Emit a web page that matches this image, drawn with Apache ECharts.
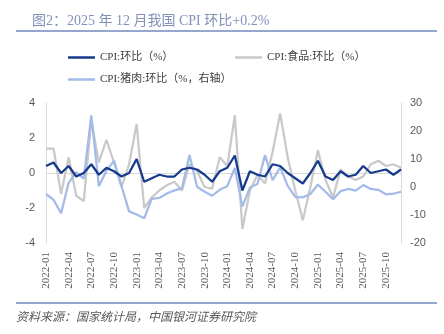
<!DOCTYPE html>
<html><head><meta charset="utf-8">
<script src="https://cdn.jsdelivr.net/npm/echarts@6/dist/echarts.min.js"></script>
<style>html,body{margin:0;padding:0;background:#fff}#c{width:444px;height:334px}</style>
</head><body><div id="c"></div>
<script>
const categories = [
 '2022-01','2022-02','2022-03','2022-04','2022-05','2022-06','2022-07','2022-08','2022-09','2022-10','2022-11','2022-12',
 '2023-01','2023-02','2023-03','2023-04','2023-05','2023-06','2023-07','2023-08','2023-09','2023-10','2023-11','2023-12',
 '2024-01','2024-02','2024-03','2024-04','2024-05','2024-06','2024-07','2024-08','2024-09','2024-10','2024-11','2024-12',
 '2025-01','2025-02','2025-03','2025-04','2025-05','2025-06','2025-07','2025-08','2025-09','2025-10','2025-11','2025-12'];
const cpiMoM = [0.4,0.6,0.0,0.4,-0.2,0.0,0.5,-0.1,0.3,0.1,-0.2,0.0,
 0.8,-0.5,-0.3,-0.1,-0.2,-0.2,0.2,0.3,0.2,-0.1,-0.5,0.1,
 0.3,1.0,-1.0,0.1,-0.1,-0.2,0.5,0.4,0.0,-0.3,-0.6,0.0,
 0.7,-0.2,-0.4,0.1,-0.2,-0.1,0.4,0.0,0.1,0.2,-0.1,0.2];
const foodMoM = [1.4,1.4,-1.2,0.9,-1.3,-1.6,3.0,0.6,1.9,0.6,-0.8,0.5,
 2.8,-2.0,-1.4,-1.0,-0.7,-0.5,-1.0,0.5,0.1,-0.8,-0.9,0.9,
 0.4,3.3,-3.2,-1.0,-0.1,-0.6,1.2,3.4,0.9,-1.0,-2.7,-0.8,
 1.3,-0.4,-1.4,0.2,-0.2,-0.4,-0.2,0.5,0.7,0.4,0.5,0.3];
const porkMoM = [-2.5,-4.6,-9.4,1.5,5.3,3.0,25.6,0.3,5.8,9.4,0.3,-8.7,
 -9.8,-11.2,-4.2,-3.9,-2.3,-1.2,-0.5,11.4,0.1,-1.7,-3.1,-1.0,
 0.3,6.8,-7.0,-0.2,1.1,11.4,2.4,7.0,0.4,-3.5,-3.7,-2.5,
 0.9,-1.7,-4.4,-1.5,-0.7,-1.3,0.7,-0.7,-1.0,-2.6,-2.4,-1.7];
const seriesNames = ['CPI:环比（%）','CPI:食品:环比（%）','CPI:猪肉:环比（%，右轴）'];
const titleText = '图2：2025 年 12 月我国 CPI 环比+0.2%';
const sourceText = '资料来源：国家统计局，中国银河证券研究院';

const serif = '"Liberation Serif","Noto Sans CJK SC",serif';
const sans = '"Liberation Sans","Noto Sans CJK SC",sans-serif';
const labelColor = '#595959';

const chart = echarts.init(document.getElementById('c'), null, {renderer:'canvas'});
const legendBase = {
  icon:'rect', itemWidth:27, itemHeight:2.5, orient:'horizontal',
  textStyle:{fontSize:11, color:'#404040', fontFamily:serif}, itemGap:10
};
chart.setOption({
  animation:false,
  backgroundColor:'#fff',
  title:{text:titleText, left:27, top:9,
    textStyle:{fontSize:14, fontWeight:'normal', color:'#8191b8', fontFamily:serif}},
  legend:[
    Object.assign({}, legendBase, {data:[seriesNames[0]], left:63, top:47}),
    Object.assign({}, legendBase, {data:[seriesNames[1]], left:230, top:47}),
    Object.assign({}, legendBase, {data:[seriesNames[2]], left:63, top:69})
  ],
  grid:{left:46, right:43, top:103, bottom:91, containLabel:false},
  xAxis:{type:'category', data:categories, boundaryGap:false,
    axisLine:{show:false}, axisTick:{show:false},
    axisLabel:{interval:2, rotate:90, fontSize:11, color:labelColor, fontFamily:serif, margin:9}},
  yAxis:[
    {type:'value', min:-4, max:4, interval:2, position:'left',
     axisLine:{show:true, lineStyle:{color:'#d9d9d9', width:1}}, axisTick:{show:false},
     splitLine:{show:false},
     axisLabel:{fontSize:11, color:labelColor, fontFamily:sans, margin:11}},
    {type:'value', min:-20, max:30, interval:10, position:'right',
     axisLine:{show:true, lineStyle:{color:'#d9d9d9', width:1}}, axisTick:{show:false},
     splitLine:{show:false},
     axisLabel:{fontSize:11, color:labelColor, fontFamily:sans, margin:9}}
  ],
  series:[
    {name:seriesNames[0], type:'line', data:cpiMoM, yAxisIndex:0, z:5,
     showSymbol:false, symbol:'none', lineStyle:{color:'#163a8c', width:2.25}, itemStyle:{color:'#163a8c'},
     markLine:{silent:true, symbol:'none', label:{show:false},
       lineStyle:{color:'#d9d9d9', width:1, type:'solid'}, data:[{yAxis:0}], z:1}},
    {name:seriesNames[1], type:'line', data:foodMoM, yAxisIndex:0, z:3,
     showSymbol:false, symbol:'none', lineStyle:{color:'#c9c9c9', width:2.25}, itemStyle:{color:'#c9c9c9'}},
    {name:seriesNames[2], type:'line', data:porkMoM, yAxisIndex:1, z:4,
     showSymbol:false, symbol:'none', lineStyle:{color:'#a3bbe8', width:2.25}, itemStyle:{color:'#a3bbe8'}}
  ],
  graphic:[
    {type:'line', shape:{x1:16,y1:31,x2:437,y2:31}, style:{stroke:'#95a7cc', lineWidth:2}},
    {type:'line', shape:{x1:16,y1:303,x2:437,y2:303}, style:{stroke:'#95a7cc', lineWidth:2}},
    {type:'text', left:16, top:310, style:{text:sourceText, fill:'#595959',
      font:'italic 12px "Noto Sans CJK SC", sans-serif'}}
  ]
});
</script>
</body></html>
